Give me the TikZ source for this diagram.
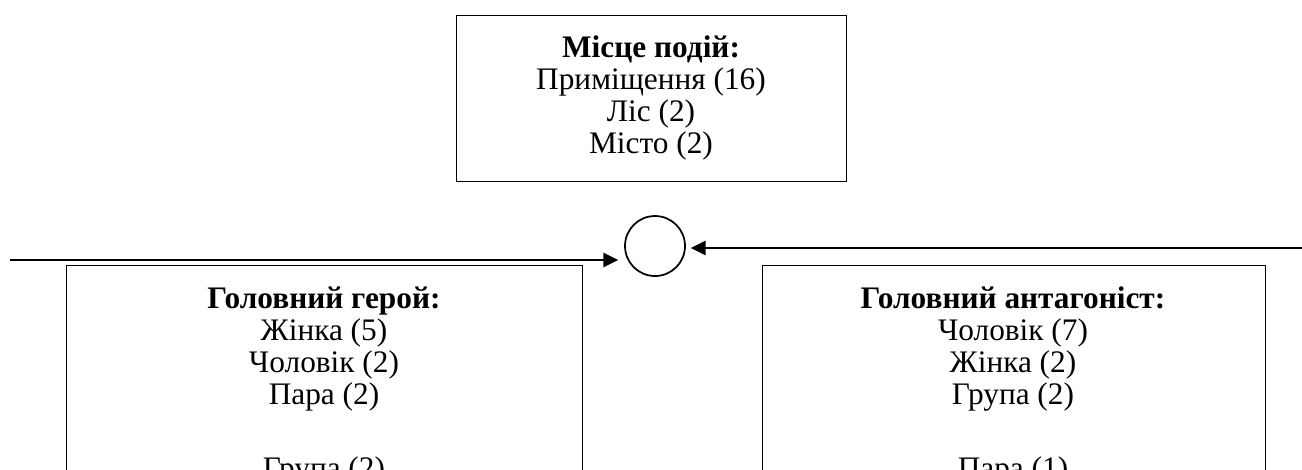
\documentclass[tikz,border=0pt]{standalone}
\usepackage{fontspec}
\setmainfont{Liberation Serif}
\usetikzlibrary{arrows.meta}
\begin{document}
\begin{tikzpicture}[x=0.75pt,y=-0.75pt,
  box/.style={draw, line width=1pt, inner sep=0pt, anchor=north west},
  txt/.style={align=center, inner sep=0pt, font=\fontsize{23.5}{24.2}\selectfont},
  arr/.style={line width=1.7pt, -{Triangle[length=11pt,width=10.5pt]}},
  hub/.style={draw, circle, line width=1.3pt, minimum size=45pt, inner sep=0pt}]
\useasboundingbox (0,0) rectangle (1302,469);
% boxes
\node[box, minimum width=292.5pt, minimum height=124.5pt] (place) at (456,15) {};
\node[box, minimum width=387pt, minimum height=250pt] (hero) at (66,265) {};
\node[box, minimum width=377.25pt, minimum height=250pt] (anta) at (762,265) {};
% texts
\node[txt] (placetxt) at (651,98) {\textbf{Місце подій:}\\Приміщення (16)\\Ліс (2)\\Місто (2)};
\node[txt] (herotxt) at (324,349) {\textbf{Головний герой:}\\Жінка (5)\\Чоловік (2)\\Пара (2)};
\node[txt] (herotxt2) at (324,471) {Група (2)};
\node[txt] (antatxt) at (1013,349) {\textbf{Головний антагоніст:}\\Чоловік (7)\\Жінка (2)\\Група (2)};
\node[txt] (antatxt2) at (1013,471) {Пара (1)};
% hub
\node[hub] (circ) at (655,246) {};
\coordinate (lstart) at (10,260);
\coordinate (rstart) at (1302,248);
\draw[arr, shorten >=4.5pt] (lstart) -- (lstart -| circ.west);
\draw[arr, shorten >=3.75pt] (rstart) -- (rstart -| circ.east);
\end{tikzpicture}
\end{document}
